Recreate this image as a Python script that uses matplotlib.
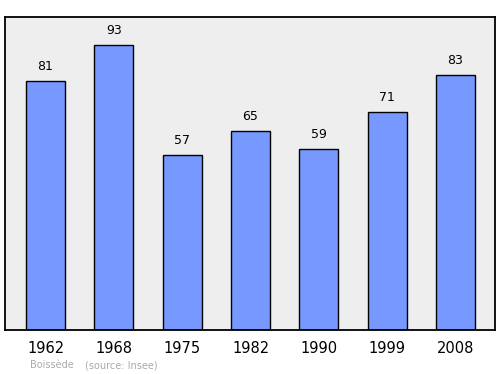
import matplotlib.pyplot as plt

years = ['1962', '1968', '1975', '1982', '1990', '1999', '2008']
population = [81, 93, 57, 65, 59, 71, 83]
commune = 'Boissède'
source = '(source: Insee)'

fig = plt.figure(figsize=(5, 3.74), dpi=100)
ax = fig.add_axes([0.01, 0.1176, 0.98, 0.837])
ax.set_facecolor('#eeeeee')

x = range(len(years))
ax.bar(x, population, width=0.57, color='#7799ff', edgecolor='black', linewidth=1)
for i, v in zip(x, population):
    ax.text(i, v + 2.6, str(v), ha='center', va='bottom', fontsize=9)

ax.set_xlim(-0.593, 6.578)
ax.set_ylim(0, 102)
ax.set_xticks(list(x))
ax.set_xticklabels(years, fontsize=10.5)
ax.tick_params(axis='x', length=0, pad=8)
ax.set_yticks([])
for s in ax.spines.values():
    s.set_linewidth(1.3)

fig.text(0.06, 0.016, commune, fontsize=7, color='#aaaaaa')
fig.text(0.17, 0.016, source, fontsize=7, color='#aaaaaa')

fig.savefig('out.png')
